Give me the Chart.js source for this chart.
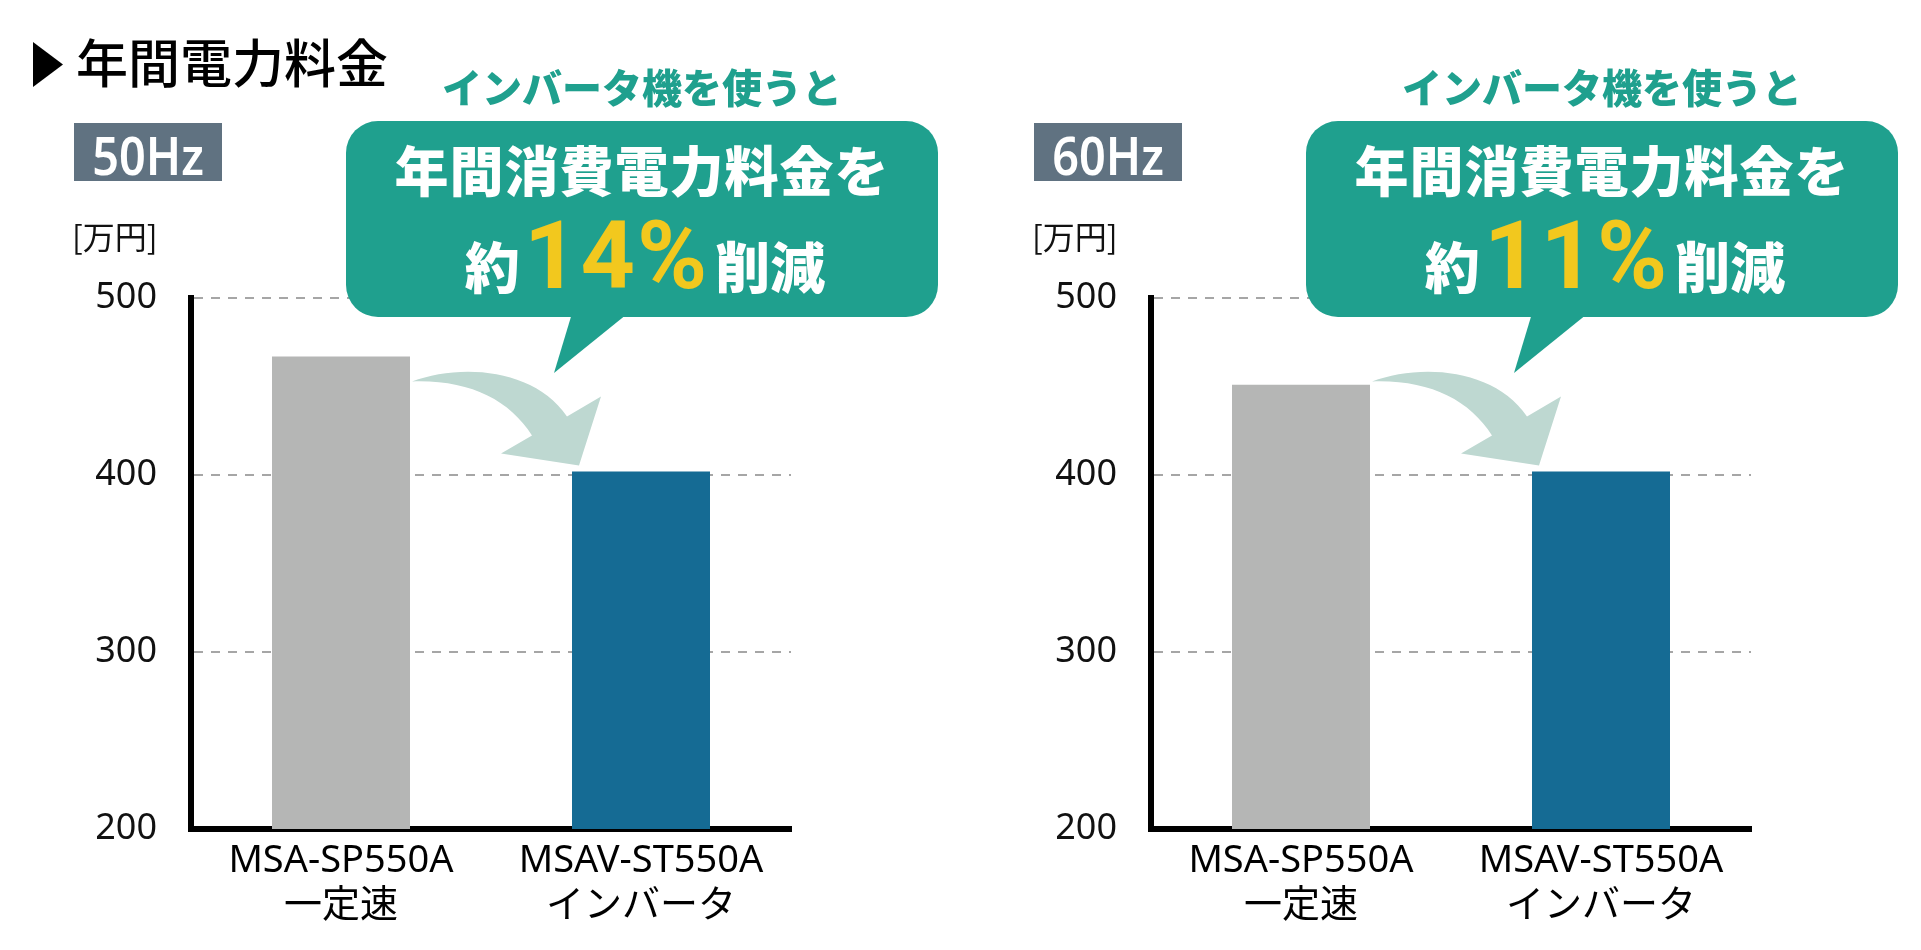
<!DOCTYPE html>
<html lang="ja">
<head>
<meta charset="utf-8">
<title>年間電力料金</title>
<script src="https://cdn.jsdelivr.net/npm/chart.js@4.4.1/dist/chart.umd.min.js"></script>
<style>
  body { margin: 0; background: #fff; font-family: "Noto Sans CJK JP", "Noto Sans", sans-serif; }
  #page { position: relative; width: 1921px; height: 950px; overflow: hidden; }
  .mark { position: absolute; left: 33px; top: 42px; width: 30px; height: 45px; background: #000;
          clip-path: polygon(0 0, 100% 50%, 0 100%); }
  .title { position: absolute; left: 76px; top: 35px; font: 500 52px/1 "Noto Sans CJK JP"; color: #000; }
  .panel { position: absolute; top: 0; width: 960px; height: 950px; }
  .panel canvas { position: absolute; left: 0; top: 0; }
  .panel div { position: absolute; }
  .hz { left: 74px; top: 123px; width: 148px; height: 58px; background: #607281; }
  .hz span { position: absolute; left: 0; right: 0; top: 6px; text-align: center; color: #fff;
             font: 600 52px/1 "Noto Sans"; transform: scaleX(0.9); }
  .unit { left: 72px; top: 219px; font: 400 32px/1 "Noto Sans CJK JP"; color: #111; }
  .lead { left: 342px; top: 66px; width: 600px; text-align: center; color: #1fa08e;
          font: 900 40px/1 "Noto Sans CJK JP"; }
  .bubble { left: 346px; top: 121px; width: 592px; height: 196px; border-radius: 32px; background: #1fa08e; }
  .line1 { left: 0; right: 0; top: 21px; text-align: center; color: #fff; letter-spacing: 1px;
           font: 900 54px/1 "Noto Sans CJK JP"; }
  .line2 { left: 6px; right: 0; top: 87px; display: flex; justify-content: center; align-items: baseline;
           color: #fff; font: 900 55px/1 "Noto Sans CJK JP"; }
  .line2 .pct { font: 700 95px/1 Roboto; color: #f2c81e; margin: 0 6px 0 4px; letter-spacing: 2px; }
  .tail { left: 550px; top: 310px; width: 90px; height: 65px; background: #1fa08e;
          clip-path: polygon(23px 0, 82px 0, 4px 63px); }
</style>
</head>
<body>
<div id="page">
  <div class="mark"></div>
  <div class="title">年間電力料金</div>
</div>
<script>
// values in 万円
const categories = [['MSA-SP550A', '一定速'], ['MSAV-ST550A', 'インバータ']];
const cost50Hz = [467, 402];
const cost60Hz = [451, 402];
const panelLabels = ['50Hz', '60Hz'];
const reductions = ['14%', '11%'];
const yTicks = [200, 300, 400, 500];
const barColors = ['#b5b6b5', '#156b94'];

const fontFamily = "'Noto Sans', 'Noto Sans CJK JP', sans-serif";

// curved arrow from the constant-speed bar down to the inverter bar
const arrowPlugin = {
  id: 'arrow',
  afterDatasetsDraw(chart) {
    const bar = chart.getDatasetMeta(0).data[1];
    const bx = bar.x - bar.width / 2;
    const by = bar.y;
    const p = (dx, dy) => [bx + dx, by + dy];
    const ctx = chart.ctx;
    ctx.save();
    ctx.fillStyle = '#bed8d1';
    ctx.beginPath();
    ctx.moveTo(...p(-160, -90));
    ctx.bezierCurveTo(...p(-113, -108), ...p(-38, -104), ...p(-5, -55));
    ctx.lineTo(...p(29, -75));
    ctx.lineTo(...p(7, -6));
    ctx.lineTo(...p(-71, -18));
    ctx.lineTo(...p(-40, -36));
    ctx.bezierCurveTo(...p(-63, -72), ...p(-103, -92), ...p(-160, -90));
    ctx.closePath();
    ctx.fill();
    ctx.restore();
  }
};

function buildPanel(index, values) {
  const panel = document.createElement('div');
  panel.className = 'panel';
  panel.style.left = (index * 960) + 'px';
  panel.innerHTML =
    '<canvas width="960" height="950"></canvas>' +
    '<div class="hz"><span>' + panelLabels[index] + '</span></div>' +
    '<div class="unit">[万円]</div>' +
    '<div class="lead">インバータ機を使うと</div>' +
    '<div class="bubble"><div class="line1">年間消費電力料金を</div>' +
    '<div class="line2"><span>約</span><span class="pct">' + reductions[index] + '</span><span>削減</span></div></div>' +
    '<div class="tail"></div>';
  document.getElementById('page').appendChild(panel);

  new Chart(panel.querySelector('canvas'), {
    type: 'bar',
    data: {
      labels: categories,
      datasets: [{
        data: values,
        backgroundColor: barColors,
        barPercentage: 0.46,
        categoryPercentage: 1
      }]
    },
    options: {
      responsive: false,
      animation: false,
      devicePixelRatio: 1,
      layout: { padding: { left: 0, top: 298, right: 169, bottom: 0 } },
      plugins: { legend: { display: false }, tooltip: { enabled: false } },
      scales: {
        x: {
          z: 1,
          grid: { display: false, drawTicks: false },
          border: { display: true, color: '#000', width: 6 },
          ticks: { color: '#000', padding: 9, font: { family: fontFamily, size: 38, lineHeight: 1.2 } },
          afterFit(scale) { scale.height = 121; }
        },
        y: {
          min: 200,
          max: 500,
          afterBuildTicks(scale) { scale.ticks = yTicks.map(v => ({ value: v })); },
          grid: {
            drawTicks: false,
            lineWidth: 2,
            color: c => (c.tick && c.tick.value === 200) ? 'rgba(0,0,0,0)' : '#a6a6a6'
          },
          border: { display: true, color: '#000', width: 6, dash: [9, 8] },
          ticks: { color: '#111', padding: 34, font: { family: fontFamily, size: 36 } },
          afterFit(scale) { scale.width = 191; }
        }
      }
    },
    plugins: [arrowPlugin]
  });
}

buildPanel(0, cost50Hz);
buildPanel(1, cost60Hz);
</script>
</body>
</html>
